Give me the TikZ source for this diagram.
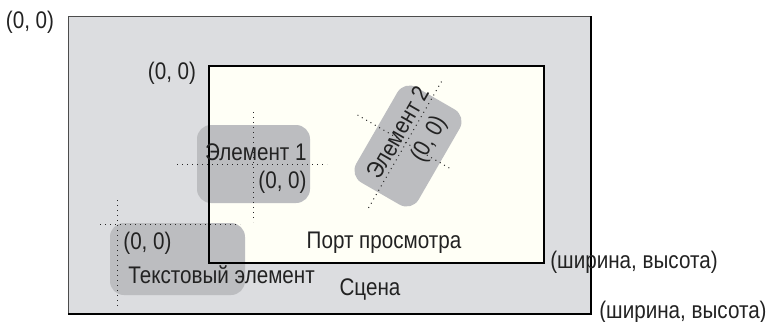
\documentclass[tikz,border=0pt]{standalone}
\usepackage{fontspec}
\setmainfont[FakeStretch=0.86]{Liberation Sans}
\usetikzlibrary{positioning}
\definecolor{scenegray}{HTML}{DCDDE0}
\definecolor{viewivory}{HTML}{FFFFF6}
\definecolor{itemgray}{HTML}{BCBDC0}
\definecolor{inkgray}{HTML}{222222}
\tikzset{
    scenebox/.style={draw=black!70, line width=0.5pt, fill=scenegray, inner sep=0pt},
    viewbox/.style={fill=viewivory, inner sep=0pt},
    itembox/.style={fill=itemgray, rounded corners=7pt, inner sep=0pt},
    axisline/.style={dotted, line width=0.5pt, black!85},
    lbl/.style={font=\fontsize{12}{14}\selectfont, text=inkgray, inner sep=0pt}
}

\begin{document}
\begin{tikzpicture}[x=0.5pt, y=-0.5pt]
\useasboundingbox (0,0) rectangle (768,322);
% scene and viewport
\node[scenebox, anchor=north west, minimum width=261pt, minimum height=148.5pt] (scene) at (68,16) {};
\draw[line width=1pt] (scene.north east) -- (scene.south east) -- (scene.south west);
\node[viewbox, anchor=north west, minimum width=167pt, minimum height=98pt] (viewport) at (209,66) {};
% element 1
\node[itembox, minimum width=56.5pt, minimum height=39pt] (elemone) at (253.5,164) {};
% element 2
\node[itembox, rotate=60, minimum width=55pt, minimum height=36pt] (elemtwo) at (408,146) {};
% text element
\node[itembox, minimum width=67.5pt, minimum height=36pt] (textelem) at (177.5,259) {};
\draw[line width=0.8pt] (viewport.north west) rectangle (viewport.south east);
% origins
\draw[axisline] (253,112) -- (253,222);
\draw[axisline] (177,164) -- (327,164);
\draw[axisline] (117,200) -- (117,306);
\draw[axisline] (100,224) -- (240,224);
\begin{scope}[shift={(406,143)}, rotate=60]
\draw[axisline] (-75,0) -- (73,0);
\draw[axisline] (0,-56) -- (0,53);
\node[lbl, rotate=60] (elemtwoname) at (5,-12) {Элемент 2};
\node[lbl, rotate=60] (elemtwoorg) at (15,19) {(0, 0)};
\end{scope}
% labels
\node[lbl] (sceneorg) at (30,22) {(0, 0)};
\node[lbl] (vieworg) at (172,73) {(0, 0)};
\node[lbl, anchor=east] (elemonename) at (307,152) {Элемент 1};
\node[lbl, anchor=east] (elemoneorg) at (307,182) {(0, 0)};
\node[lbl, anchor=west] (textorg) at (123,243) {(0, 0)};
\node[lbl, anchor=west] (textname) at (128,275) {Текстовый элемент};
\node[lbl] (viewname) at (384,243) {Порт просмотра};
\node[lbl] (scenename) at (370,290) {Сцена};
\node[lbl] (viewsize) at (634,262) {(ширина, высота)};
\node[lbl, anchor=east] (scenesize) at (767,312) {(ширина, высота)};
\end{tikzpicture}
\end{document}
